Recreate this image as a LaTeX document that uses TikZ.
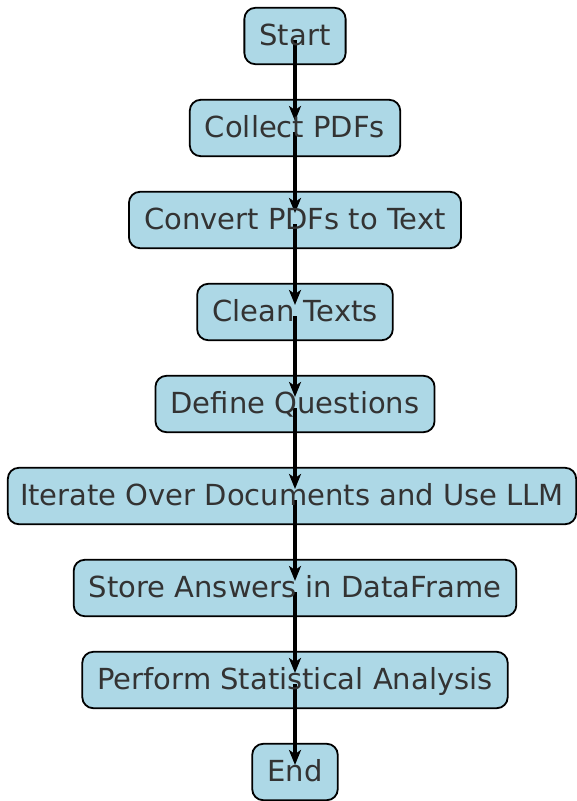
\documentclass[tikz,border=0pt]{standalone}
\usepackage{fontspec}
\setmainfont{DejaVu Sans}
\usetikzlibrary{arrows.meta,backgrounds}
\definecolor{boxfill}{RGB}{173,216,230}
\definecolor{labelgray}{RGB}{51,51,51}
\tikzset{
  stepbox/.style={
    draw=none, inner xsep=15pt, inner ysep=0pt, minimum height=56pt,
    font=\fontsize{29}{34}\selectfont, text=labelgray,
    text height=23.5pt, text depth=5.5pt
  },
  boxframe/.style={draw=black, line width=1.8pt, fill=boxfill, rounded corners=11pt},
  flow/.style={draw=black, line width=3.6pt,
    -{Stealth[length=15pt,width=12pt,inset=4pt]}}
}
\begin{document}
\begin{tikzpicture}[x=1pt,y=-1pt]
  \useasboundingbox (0,0) rectangle (577,801);
  % process steps, top to bottom
  \node[stepbox] (s1) at (295,36)  {Start};
  \node[stepbox] (s2) at (295,128) {Collect PDFs};
  \node[stepbox] (s3) at (295,220) {Convert PDFs to Text};
  \node[stepbox] (s4) at (295,312) {Clean Texts};
  \node[stepbox] (s5) at (295,404) {Define Questions};
  \node[stepbox, inner xsep=12pt] (s6) at (292,496) {Iterate Over Documents and Use LLM};
  \node[stepbox] (s7) at (295,588) {Store Answers in DataFrame};
  \node[stepbox] (s8) at (295,680) {Perform Statistical Analysis};
  \node[stepbox] (s9) at (295,772) {End};
  \begin{scope}[on background layer]
    % rounded frames behind the labels
    \foreach \n in {s1,s2,s3,s4,s5,s6,s7,s8,s9}
      \path[boxframe] (\n.south west) rectangle (\n.north east);
    % connectors run straight down the common axis, under the labels
    \foreach \a/\b in {s1/s2,s2/s3,s3/s4,s4/s5,s5/s6,s6/s7,s7/s8,s8/s9}
      \draw[flow] ([yshift=-4pt]s1.center |- \a.center) -- ([yshift=7pt]s1.center |- \b.center);
  \end{scope}
\end{tikzpicture}
\end{document}
